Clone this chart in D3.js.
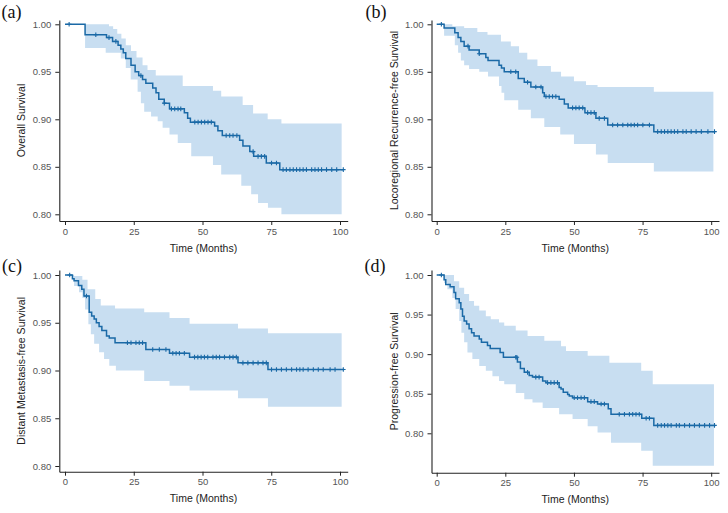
<!DOCTYPE html>
<html><head><meta charset="utf-8">
<script src="https://cdn.jsdelivr.net/npm/d3@7"></script>
<style>body{margin:0;background:#fff;} svg text{font-family:"Liberation Sans",Arial,sans-serif;}</style>
</head><body><svg id="c" width="728" height="513"></svg>
<script>
// ---------- DATA (months, survival probability) ----------
const xTicks = [0, 25, 50, 75, 100];
const yTicks = [0.80, 0.85, 0.90, 0.95, 1.00];

// (a) Overall Survival
const aTime = [0, 7.3, 15.1, 17.3, 19.3, 20.3, 21.2, 22.1, 24.0, 25.5, 26.8, 28.2, 29.4, 31.9, 33.1, 34.1, 36.1, 38.0, 43.4, 44.6, 45.6, 54.4, 55.6, 57.2, 63.5, 64.7, 67.2, 68.6, 73.2, 78.1, 101.2];
const aSurv = [1.000, 0.989, 0.986, 0.982, 0.978, 0.974, 0.970, 0.964, 0.957, 0.950, 0.946, 0.942, 0.938, 0.933, 0.928, 0.921, 0.917, 0.911, 0.907, 0.901, 0.897, 0.893, 0.888, 0.883, 0.878, 0.872, 0.866, 0.861, 0.854, 0.847, 0.847];
const aUpTime = [0, 16.0, 17.5, 19.0, 20.5, 22.1, 24.0, 26.0, 28.2, 30.0, 33.0, 42.8, 53.8, 56.8, 64.6, 68.4, 73.7, 78.7, 100.6];
const aUp = [1.000, 0.998, 0.995, 0.990, 0.985, 0.978, 0.972, 0.965, 0.957, 0.952, 0.946, 0.935, 0.930, 0.924, 0.915, 0.906, 0.900, 0.8955, 0.8955];
const aLoTime = [0, 7.3, 14.8, 20.3, 22.1, 23.9, 26.4, 27.6, 28.8, 31.3, 33.7, 35.5, 38.0, 41.0, 45.9, 53.8, 56.8, 64.1, 67.7, 70.2, 73.8, 78.7, 100.6];
const aLo = [1.000, 0.975, 0.970, 0.964, 0.954, 0.942, 0.929, 0.917, 0.908, 0.903, 0.898, 0.891, 0.884, 0.875, 0.861, 0.852, 0.842, 0.830, 0.821, 0.812, 0.807, 0.800, 0.800];
const aCensor = [1.5, 11.2, 16.0, 18.5, 27.6, 36.1, 38.7, 39.9, 41.1, 42.1, 47.2, 48.4, 49.6, 50.8, 52.0, 53.2, 58.6, 59.9, 61.1, 62.5, 68.4, 70.2, 71.4, 72.6, 75.1, 76.9, 79.3, 80.5, 81.8, 83.0, 84.2, 85.4, 86.6, 87.8, 89.7, 90.9, 92.1, 93.3, 95.1, 97.0, 98.8, 101.2];

// (b) Locoregional Recurrence-free Survival
const bTime = [0, 2.7, 6.6, 7.8, 8.8, 10.0, 11.8, 15.5, 17.9, 18.7, 22.7, 23.6, 24.6, 29.7, 31.9, 34.3, 38.6, 39.2, 44.6, 46.5, 47.9, 54.0, 58.0, 62.3, 79.1, 101.5];
const bSurv = [1.000, 0.996, 0.991, 0.986, 0.982, 0.977, 0.973, 0.969, 0.965, 0.962, 0.957, 0.954, 0.950, 0.943, 0.939, 0.934, 0.928, 0.924, 0.921, 0.916, 0.912, 0.907, 0.901, 0.894, 0.887, 0.887];
const bUpTime = [0, 5.7, 10.0, 14.8, 18.5, 23.4, 27.0, 30.0, 33.0, 36.7, 41.6, 45.3, 50.0, 54.4, 58.6, 79.1, 100.8];
const bUp = [1.000, 0.998, 0.996, 0.992, 0.989, 0.982, 0.977, 0.970, 0.963, 0.956, 0.950, 0.945, 0.940, 0.936, 0.934, 0.929, 0.929];
const bLoTime = [0, 2.7, 6.6, 7.8, 8.8, 10.0, 11.8, 15.5, 18.7, 22.7, 23.6, 24.6, 29.7, 34.3, 39.2, 45.0, 50.0, 58.0, 62.3, 79.1, 100.8];
const bLo = [1.000, 0.988, 0.978, 0.970, 0.962, 0.957, 0.953, 0.950, 0.945, 0.935, 0.928, 0.920, 0.910, 0.901, 0.892, 0.884, 0.874, 0.863, 0.854, 0.845, 0.845];
const bCensor = [1.7, 11.4, 15.5, 27.0, 28.8, 33.1, 36.1, 38.0, 39.8, 41.0, 42.2, 43.4, 49.5, 50.7, 51.9, 53.2, 55.0, 56.2, 57.4, 59.2, 61.1, 64.1, 65.9, 67.8, 69.6, 70.8, 72.0, 73.2, 75.1, 77.5, 80.5, 81.8, 83.0, 84.2, 85.4, 86.6, 87.8, 89.7, 90.9, 92.7, 94.5, 96.4, 98.8, 101.2];

// (c) Distant Metastasis-free Survival
const cTime = [0, 2.7, 3.3, 4.9, 6.1, 6.9, 8.8, 9.7, 10.6, 11.4, 12.4, 13.4, 15.1, 16.1, 18.2, 29.4, 38.0, 45.3, 62.9, 73.8, 101.5];
const cSurv = [1.000, 0.996, 0.994, 0.989, 0.985, 0.978, 0.961, 0.957, 0.954, 0.950, 0.946, 0.942, 0.936, 0.934, 0.929, 0.922, 0.918, 0.914, 0.908, 0.901, 0.901];
const cUpTime = [0, 3.3, 6.3, 8.2, 11.0, 13.0, 18.2, 28.8, 38.0, 45.3, 62.9, 73.8, 100.6];
const cUp = [1.000, 0.999, 0.995, 0.985, 0.975, 0.968, 0.965, 0.961, 0.955, 0.949, 0.944, 0.939, 0.939];
const cLoTime = [0, 2.7, 3.3, 5.1, 6.3, 7.3, 8.5, 9.4, 10.6, 12.4, 14.2, 16.1, 18.5, 28.8, 38.0, 45.3, 62.9, 73.8, 100.6];
const cLo = [1.000, 0.997, 0.9885, 0.982, 0.976, 0.964, 0.9485, 0.938, 0.928, 0.919, 0.912, 0.905, 0.900, 0.889, 0.884, 0.879, 0.871, 0.862, 0.862];
const cCensor = [1.7, 7.8, 22.7, 24.0, 25.8, 27.0, 28.2, 31.9, 34.3, 36.7, 39.2, 40.4, 41.6, 43.4, 47.1, 48.3, 49.5, 50.7, 51.9, 53.8, 55.0, 56.2, 58.0, 59.9, 61.1, 62.3, 64.7, 66.5, 68.4, 70.2, 72.0, 73.2, 75.1, 76.9, 78.7, 80.5, 82.4, 84.2, 85.4, 86.6, 88.4, 90.3, 92.1, 93.9, 96.4, 98.2, 101.2];

// (d) Progression-free Survival
const dTime = [0, 2.7, 3.3, 4.9, 6.3, 6.9, 8.2, 8.8, 9.4, 10.0, 10.9, 11.8, 12.7, 13.6, 15.5, 16.3, 18.5, 19.5, 23.1, 24.3, 29.4, 30.5, 31.9, 33.7, 34.9, 38.6, 39.8, 44.6, 45.3, 46.1, 47.7, 48.3, 49.5, 55.0, 58.6, 62.5, 63.5, 74.7, 79.1, 101.5];
const dSurv = [1.000, 0.994, 0.988, 0.985, 0.978, 0.970, 0.965, 0.957, 0.948, 0.942, 0.938, 0.932, 0.927, 0.923, 0.919, 0.915, 0.911, 0.907, 0.902, 0.896, 0.890, 0.882, 0.877, 0.873, 0.871, 0.866, 0.864, 0.858, 0.856, 0.852, 0.849, 0.847, 0.845, 0.840, 0.837, 0.831, 0.824, 0.819, 0.810, 0.810];
const dUpTime = [0, 6.3, 8.2, 10.0, 11.8, 13.6, 15.5, 17.9, 19.7, 22.7, 24.6, 28.8, 33.1, 39.2, 45.3, 47.1, 55.0, 62.9, 74.5, 78.7, 101.0];
const dUp = [1.000, 0.992, 0.984, 0.976, 0.967, 0.961, 0.955, 0.948, 0.944, 0.940, 0.936, 0.930, 0.923, 0.917, 0.910, 0.904, 0.898, 0.889, 0.879, 0.862, 0.862];
const dLoTime = [0, 2.7, 3.9, 5.7, 6.9, 8.2, 9.0, 10.0, 11.2, 13.0, 15.5, 17.9, 20.3, 22.7, 24.6, 28.8, 31.9, 34.9, 38.6, 44.6, 49.5, 55.0, 58.6, 63.5, 74.5, 78.7, 101.0];
const dLo = [1.000, 0.990, 0.982, 0.971, 0.957, 0.942, 0.927, 0.915, 0.902, 0.894, 0.885, 0.879, 0.872, 0.866, 0.862, 0.851, 0.843, 0.839, 0.832, 0.824, 0.818, 0.809, 0.801, 0.788, 0.778, 0.759, 0.759];
const dCensor = [1.7, 28.8, 29.2, 33.1, 36.1, 37.3, 40.4, 41.6, 42.8, 44.0, 50.1, 51.3, 52.6, 53.8, 56.2, 57.4, 59.9, 61.1, 66.5, 68.4, 70.2, 71.4, 72.6, 73.8, 76.3, 77.5, 80.5, 81.8, 83.0, 84.2, 85.4, 87.3, 88.4, 90.3, 92.1, 93.9, 95.7, 97.6, 99.4, 101.2];

// ---------- LAYOUT ----------
const panels = [
  {label:"(a)", title:"Overall Survival", time:aTime, surv:aSurv, upT:aUpTime, up:aUp, loT:aLoTime, lo:aLo, cens:aCensor,
   xr:[59.3,347.7], x0:65, x100:340, yr:[221,20], y100:24.3, y80:214.3, lx:1.5, ly:18},
  {label:"(b)", title:"Locoregional Recurrence-free Survival", time:bTime, surv:bSurv, upT:bUpTime, up:bUp, loT:bLoTime, lo:bLo, cens:bCensor,
   xr:[431.5,719], x0:436.7, x100:711.2, yr:[221,20], y100:24.3, y80:214.3, lx:365.5, ly:18},
  {label:"(c)", title:"Distant Metastasis-free Survival", time:cTime, surv:cSurv, upT:cUpTime, up:cUp, loT:cLoTime, lo:cLo, cens:cCensor,
   xr:[59.3,347.7], x0:65, x100:340, yr:[471.7,270], y100:275, y80:466, lx:2, ly:271.5},
  {label:"(d)", title:"Progression-free Survival", time:dTime, surv:dSurv, upT:dUpTime, up:dUp, loT:dLoTime, lo:dLo, cens:dCensor,
   xr:[431.5,719], x0:436.7, x100:711.2, yr:[472.7,270], y100:275, y80:433.3, lx:364.5, ly:271.5}
];

const LINE = "#1a69a6", FILL = "#c8def1";
const svg = d3.select("#c");

function stepAt(times, vals, t) {
  let v = vals[0];
  for (let i = 0; i < times.length; i++) { if (times[i] <= t) v = vals[i]; else break; }
  return v;
}

panels.forEach(p => {
  const xb = d3.scaleLinear().domain([0, 100]).range([p.x0, p.x100]);
  const x = d3.scaleLinear().domain([xb.invert(p.xr[0]), xb.invert(p.xr[1])]).range(p.xr);
  const yb = d3.scaleLinear().domain([0.80, 1.00]).range([p.y80, p.y100]);
  const y = d3.scaleLinear().domain([yb.invert(p.yr[0]), yb.invert(p.yr[1])]).range(p.yr);
  const g = svg.append("g");

  // confidence band
  const bt = Array.from(new Set(p.upT.concat(p.loT))).sort((a, b) => a - b);
  const band = bt.map(t => ({t, u: stepAt(p.upT, p.up, t), l: stepAt(p.loT, p.lo, t)}));
  g.append("path").datum(band)
    .attr("fill", FILL).attr("stroke", "none")
    .attr("d", d3.area().curve(d3.curveStepAfter).x(d => x(d.t)).y0(d => y(d.l)).y1(d => y(d.u)));

  // survival curve
  const pts = p.time.map((t, i) => ({t, s: p.surv[i]}));
  g.append("path").datum(pts)
    .attr("fill", "none").attr("stroke", LINE).attr("stroke-width", 1.5)
    .attr("d", d3.line().curve(d3.curveStepAfter).x(d => x(d.t)).y(d => y(d.s)));

  // censor marks
  g.append("g").selectAll("path").data(p.cens).join("path")
    .attr("transform", t => `translate(${x(t)},${y(stepAt(p.time, p.surv, t))})`)
    .attr("d", "M-2.3,0H2.3M0,-2.3V2.3")
    .attr("stroke", LINE).attr("stroke-width", 1.1).attr("fill", "none");

  // axes
  const ax = g.append("g").attr("transform", `translate(0,${p.yr[0]})`)
    .call(d3.axisBottom(x).tickValues(xTicks).tickFormat(d3.format("d")).tickSizeInner(4).tickSizeOuter(0).tickPadding(3));
  const ay = g.append("g").attr("transform", `translate(${p.xr[0]},0)`)
    .call(d3.axisLeft(y).tickValues(yTicks).tickFormat(d3.format(".2f")).tickSizeInner(4).tickSizeOuter(0).tickPadding(4));
  [ax, ay].forEach(a => {
    a.select(".domain").attr("stroke", "#222").attr("stroke-width", 1.1);
    a.selectAll(".tick line").attr("stroke", "#222").attr("stroke-width", 1);
    a.selectAll(".tick text").attr("fill", "#555").attr("font-size", "9.5px")
      .style("font-family", "'Liberation Sans', Arial, sans-serif");
  });

  // axis titles
  g.append("text").attr("x", (p.xr[0] + p.xr[1]) / 2).attr("y", p.yr[0] + 30.5)
    .attr("text-anchor", "middle").attr("font-size", "10.5px").attr("fill", "#222").text("Time (Months)");
  g.append("text").attr("transform", `translate(${p.xr[0] - 34},${(p.yr[0] + p.yr[1]) / 2}) rotate(-90)`)
    .attr("text-anchor", "middle").attr("font-size", "10.5px").attr("fill", "#222").text(p.title);

  // panel label
  g.append("text").attr("x", p.lx).attr("y", p.ly).attr("font-size", "18px").attr("fill", "#111")
    .style("font-family", "'Liberation Serif', 'Times New Roman', serif").text(p.label);
});
</script></body></html>
